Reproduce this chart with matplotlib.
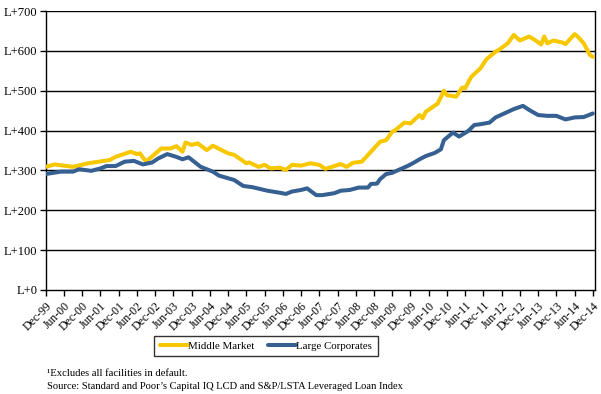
import matplotlib
matplotlib.use("Agg")
import matplotlib.pyplot as plt
import pandas as pd

plt.rcParams['font.family'] = ['Liberation Serif', 'DejaVu Serif']

# Middle Market spread (bps over LIBOR)
mm_dates = ["1999-12", "2000-03", "2000-09", "2001-02", "2001-09", "2001-11", "2002-04", "2002-06",
            "2002-07", "2002-09", "2003-02", "2003-05", "2003-07", "2003-09", "2003-10", "2003-12",
            "2004-02", "2004-05", "2004-07", "2004-12", "2005-02", "2005-06", "2005-07", "2005-10",
            "2005-12", "2006-02", "2006-05", "2006-07", "2006-09", "2006-12", "2007-03", "2007-06",
            "2007-08", "2007-11", "2008-01", "2008-03", "2008-05", "2008-08", "2008-11", "2009-02",
            "2009-04", "2009-06", "2009-07", "2009-10", "2009-12", "2010-03", "2010-04", "2010-05",
            "2010-09", "2010-11", "2010-12", "2011-03", "2011-05", "2011-06", "2011-08", "2011-11",
            "2012-01", "2012-04", "2012-05", "2012-08", "2012-10", "2012-12", "2013-03", "2013-05",
            "2013-07", "2013-08", "2013-09", "2013-11", "2014-02", "2014-03", "2014-06", "2014-07",
            "2014-09", "2014-11", "2014-12"]
mm_values = [309, 315, 309, 318, 326, 334, 347, 341,
             343, 322, 355, 355, 361, 347, 370, 364,
             368, 351, 362, 343, 339, 318, 320, 309,
             314, 305, 307, 301, 314, 312, 318, 314,
             304, 311, 316, 309, 319, 322, 347, 372,
             376, 397, 401, 420, 418, 439, 431, 447,
             468, 500, 489, 485, 508, 506, 535, 556,
             579, 598, 602, 619, 640, 626, 636, 627,
             616, 636, 619, 626, 621, 617, 642, 636,
             619, 590, 585]

# Large Corporates spread
lc_dates = ["1999-12", "2000-05", "2000-09", "2000-11", "2001-03", "2001-06", "2001-08", "2001-11",
            "2002-02", "2002-05", "2002-08", "2002-11", "2003-01", "2003-04", "2003-07", "2003-09",
            "2003-11", "2004-03", "2004-07", "2004-09", "2005-02", "2005-05", "2005-08", "2006-01",
            "2006-05", "2006-07", "2006-09", "2006-12", "2007-02", "2007-05", "2007-07", "2007-11",
            "2008-01", "2008-04", "2008-07", "2008-10", "2008-11", "2009-01", "2009-02", "2009-04",
            "2009-06", "2009-08", "2009-11", "2010-01", "2010-03", "2010-05", "2010-08", "2010-10",
            "2010-11", "2011-02", "2011-04", "2011-07", "2011-09", "2011-11", "2012-02", "2012-04",
            "2012-08", "2012-10", "2013-01", "2013-03", "2013-06", "2013-09", "2013-12", "2014-03",
            "2014-06", "2014-09", "2014-12"]
lc_values = [291, 297, 297, 303, 299, 305, 311, 311,
             322, 324, 315, 320, 330, 341, 334, 328,
             333, 309, 297, 287, 276, 261, 258, 249,
             244, 241, 247, 251, 255, 238, 238, 243,
             249, 251, 257, 257, 266, 267, 278, 291,
             294, 301, 311, 319, 328, 336, 344, 353,
             376, 395, 385, 399, 414, 416, 420, 433,
             447, 454, 462, 452, 439, 437, 437, 428,
             433, 434, 443]

y_ticks = [0, 100, 200, 300, 400, 500, 600, 700]
y_labels = ["L+0", "L+100", "L+200", "L+300", "L+400", "L+500", "L+600", "L+700"]
x_tick_labels = ["Dec-99", "Jun-00", "Dec-00", "Jun-01", "Dec-01", "Jun-02", "Dec-02", "Jun-03",
                 "Dec-03", "Jun-04", "Dec-04", "Jun-05", "Dec-05", "Jun-06", "Dec-06", "Jun-07",
                 "Dec-07", "Jun-08", "Dec-08", "Jun-09", "Dec-09", "Jun-10", "Dec-10", "Jun-11",
                 "Dec-11", "Jun-12", "Dec-12", "Jun-13", "Dec-13", "Jun-14", "Dec-14"]

start = pd.Period("1999-12", freq="M")
def month_index(dates):
    return [(pd.Period(d, freq="M") - start).n for d in dates]

mm_x = month_index(mm_dates)
lc_x = month_index(lc_dates)

fig = plt.figure(figsize=(6.01, 3.94), dpi=100)
ax = fig.add_axes([0.076, 0.264, 0.914, 0.708])

for yv in y_ticks[1:]:
    ax.axhline(yv, color="black", lw=1.0, zorder=1)

ax.plot(mm_x, mm_values, color="#F7C700", lw=2.9, solid_joinstyle="round",
        solid_capstyle="round", label="Middle Market", zorder=3)
ax.plot(lc_x, lc_values, color="#376092", lw=2.9, solid_joinstyle="round",
        solid_capstyle="round", label="Large Corporates", zorder=3)

ax.set_ylim(0, 700)
ax.set_xlim(0, 180.7)
ax.set_yticks(y_ticks)
ax.set_yticklabels(y_labels, fontsize=9)
ax.set_xticks(list(range(0, 181, 6)))
ax.set_xticklabels(x_tick_labels, fontsize=8.5, rotation=45, ha="right",
                   rotation_mode="anchor")
ax.tick_params(axis="both", direction="out", length=4, width=1, color="black", pad=2)
ax.tick_params(axis="x", pad=3)
for side in ["left", "bottom", "right"]:
    ax.spines[side].set_color("black")
    ax.spines[side].set_linewidth(1.0)
ax.spines["top"].set_visible(False)

leg = fig.legend(loc="center", bbox_to_anchor=(0.4426, 0.122), ncol=2, fontsize=7.8,
                 frameon=True, fancybox=False, handlelength=2.6, handletextpad=0.05,
                 columnspacing=1.2, borderpad=0.5, borderaxespad=0)
leg.get_frame().set_edgecolor("black")
leg.get_frame().set_linewidth(1.0)

fig.text(0.079, 0.052, "\u00b9Excludes all facilities in default.", fontsize=7.7,
         va="center", ha="left")
fig.text(0.079, 0.019, "Source: Standard and Poor\u2019s Capital IQ LCD and S&P/LSTA Leveraged Loan Index",
         fontsize=7.6, va="center", ha="left")

fig.savefig("out.png", dpi=100)
